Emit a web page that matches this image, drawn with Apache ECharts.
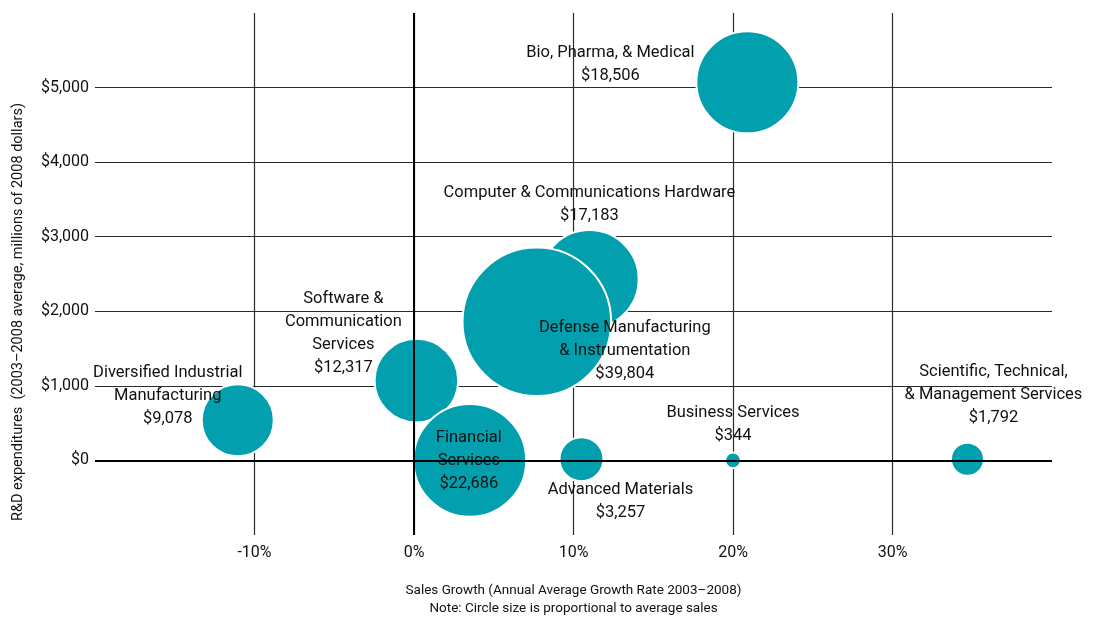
<!DOCTYPE html>
<html>
<head>
<meta charset="utf-8">
<title>R&amp;D expenditures and sales growth by industry</title>
<script src="https://cdn.jsdelivr.net/npm/echarts@6/dist/echarts.min.js"></script>
<style>
  html, body { margin: 0; padding: 0; background: #fff; }
  #main { width: 1096px; height: 620px; }
</style>
</head>
<body>
<div id="main"></div>
<script>
// industries (line breaks as in the chart labels)
var industries = [
    'Bio, Pharma, & Medical',
    'Computer & Communications Hardware',
    'Defense Manufacturing\n& Instrumentation',
    'Software &\nCommunication\nServices',
    'Diversified Industrial\nManufacturing',
    'Financial\nServices',
    'Advanced Materials',
    'Business Services',
    'Scientific, Technical,\n& Management Services'
];
// sales growth, annual average 2003-2008 (%)
var salesGrowth = [20.9, 11.0, 7.7, 0.15, -11.05, 3.5, 10.5, 20.0, 34.7];
// R&D expenditures, millions of 2008 dollars
var rdSpend = [5070, 2430, 1860, 1070, 540, 0, 17, 0, 16];
// average sales (bubble size)
var avgSales = [18506, 17183, 39804, 12317, 9078, 22686, 3257, 344, 1792];

// where each label sits relative to its bubble (px)
var labelOffsets = [
    [-137, -18], [0, -75], [88, 29], [-73, -47], [-70, -24],
    [-1, 0], [39, 42], [0, -36], [26, -64]
];

var FONT = 'Roboto';
var TEXT = '#111';

var myChart = echarts.init(document.getElementById('main'));

var bubbles = [];
for (var i = 0; i < industries.length; i++) {
    bubbles.push({
        name: industries[i],
        value: [salesGrowth[i], rdSpend[i], avgSales[i]],
        label: { offset: labelOffsets[i] }
    });
}

var option = {
    animation: false,
    textStyle: { fontFamily: FONT },
    grid: { left: 95, right: 44, top: 13, bottom: 85, outerBoundsMode: 'none' },
    // y axis title sits a bit low, like the original
    graphic: [{
        type: 'text',
        x: 18,
        y: 312,
        rotation: Math.PI / 2,
        style: {
            text: 'R&D expenditures  (2003\u20132008 average, millions of 2008 dollars)',
            font: '14.5px Roboto',
            fill: TEXT,
            align: 'center',
            verticalAlign: 'middle'
        }
    }],
    xAxis: {
        type: 'value',
        min: -20,
        max: 40,
        interval: 10,
        axisLine: { show: false },
        axisTick: { show: false },
        axisLabel: {
            formatter: '{value}%',
            showMinLabel: false,
            showMaxLabel: false,
            fontSize: 16,
            color: TEXT,
            margin: 10
        },
        splitLine: {
            show: true,
            showMinLine: false,
            showMaxLine: false,
            lineStyle: { color: '#2a2a2a', width: 1.2 }
        },
        name: 'Sales Growth (Annual Average Growth Rate 2003\u20132008)\nNote: Circle size is proportional to average sales',
        nameLocation: 'middle',
        nameGap: 47,
        nameTextStyle: { fontSize: 13.5, lineHeight: 18, color: TEXT }
    },
    yAxis: {
        type: 'value',
        min: -1000,
        max: 6000,
        interval: 1000,
        axisLine: { show: false },
        axisTick: { show: false },
        axisLabel: {
            formatter: function (v) { return '$' + v.toLocaleString('en-US'); },
            showMinLabel: false,
            showMaxLabel: false,
            fontSize: 16,
            color: TEXT,
            margin: 6
        },
        splitLine: {
            show: true,
            showMinLine: false,
            showMaxLine: false,
            lineStyle: { color: '#2a2a2a', width: 1.2 }
        }
    },
    series: [
        {
            // heavy zero lines, kept under the bubbles
            type: 'scatter',
            z: 1,
            silent: true,
            data: [],
            markLine: {
                silent: true,
                symbol: 'none',
                label: { show: false },
                lineStyle: { color: '#000', width: 2, type: 'solid' },
                emphasis: { disabled: true },
                data: [{ xAxis: 0 }, { yAxis: 0 }]
            }
        },
        {
            type: 'scatter',
            z: 2,
            data: bubbles,
            // area proportional to sales
            symbolSize: function (val) { return Math.sqrt(val[2]) * 0.735 + 2; },
            itemStyle: { color: '#02a0ae', borderColor: '#fff', borderWidth: 2, opacity: 1 },
            emphasis: { disabled: true },
            label: {
                show: true,
                position: 'inside',
                align: 'center',
                fontSize: 16.5,
                lineHeight: 23,
                color: TEXT,
                formatter: function (p) {
                    return p.name + '\n$' + p.value[2].toLocaleString('en-US');
                }
            }
        }
    ]
};

myChart.setOption(option);
</script>
</body>
</html>
